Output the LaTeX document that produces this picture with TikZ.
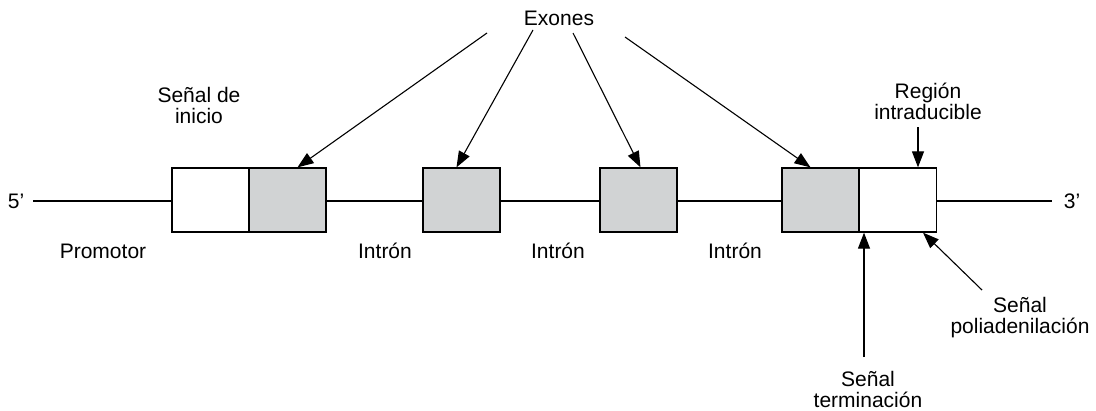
\documentclass[tikz,border=0pt]{standalone}
\usepackage{fontspec}
\setmainfont{Liberation Sans}
\usetikzlibrary{arrows.meta}
\definecolor{exongray}{RGB}{209,211,212}
\tikzset{
  box/.style={draw, line width=1.3pt, minimum width=77pt, minimum height=64pt, inner sep=0pt, fill=white},
  exon/.style={box, fill=exongray},
  lbl/.style={font=\fontsize{21}{21}\selectfont, align=center, anchor=base, inner sep=0pt},
  ptr/.style={line width=1.1pt, -{Triangle[length=16pt,width=12pt]}},
}
\begin{document}
\begin{tikzpicture}[x=1pt,y=-1pt]
  \useasboundingbox (0,0) rectangle (1096,410);
  % backbone
  \coordinate (s5) at (33,201);
  \coordinate (s3) at (1052,201);
  \draw[line width=1.3pt] (s5) -- (s3);
  \node[lbl] (p5) at (16,208) {5’};
  \node[lbl] (p3) at (1072,208) {3’};
  % boxes
  \node[box] (ini) at (210.5,200) {};
  \node[exon] (e1) at (287.5,200) {};
  \node[exon] (e2) at (461.5,200) {};
  \node[exon] (e3) at (638.5,200) {};
  \node[exon] (e4) at (820.5,200) {};
  \node[box] (utr) at (898,200) {};
  % labels
  \node[lbl] (exo) at (559,25) {Exones};
  \node[lbl] (sini) at (199,123) {Señal de\\inicio};
  \node[lbl] (reg) at (928,119) {Región\\intraducible};
  \node[lbl] (prom) at (103,258) {Promotor};
  \node[lbl] (in1) at (385,258) {Intrón};
  \node[lbl] (in2) at (558,258) {Intrón};
  \node[lbl] (in3) at (735,258) {Intrón};
  \node[lbl] (sterm) at (868,407) {Señal\\terminación};
  \node[lbl] (spoly) at (1020,333) {Señal\\poliadenilación};
  % arrows
  \coordinate (a1) at (487,33);
  \coordinate (a2) at (533,30);
  \coordinate (a3) at (573,33);
  \coordinate (a4) at (625,37);
  \draw[ptr] (a1) -- ([xshift=10pt]e1.north);
  \draw[ptr] (a2) -- ([xshift=-5pt]e2.north);
  \draw[ptr] (a3) -- ([xshift=2pt]e3.north);
  \draw[ptr] (a4) -- ([xshift=-10pt]e4.north);
  \coordinate (ar) at (918,127);
  \draw[ptr] (ar) -- ([xshift=20pt]utr.north);
  \coordinate (at) at (864,357);
  \draw[ptr] (at) -- ([xshift=-34pt]utr.south);
  \coordinate (ap) at (982,290);
  \draw[ptr] (ap) -- ([xshift=25pt]utr.south);
\end{tikzpicture}
\end{document}
